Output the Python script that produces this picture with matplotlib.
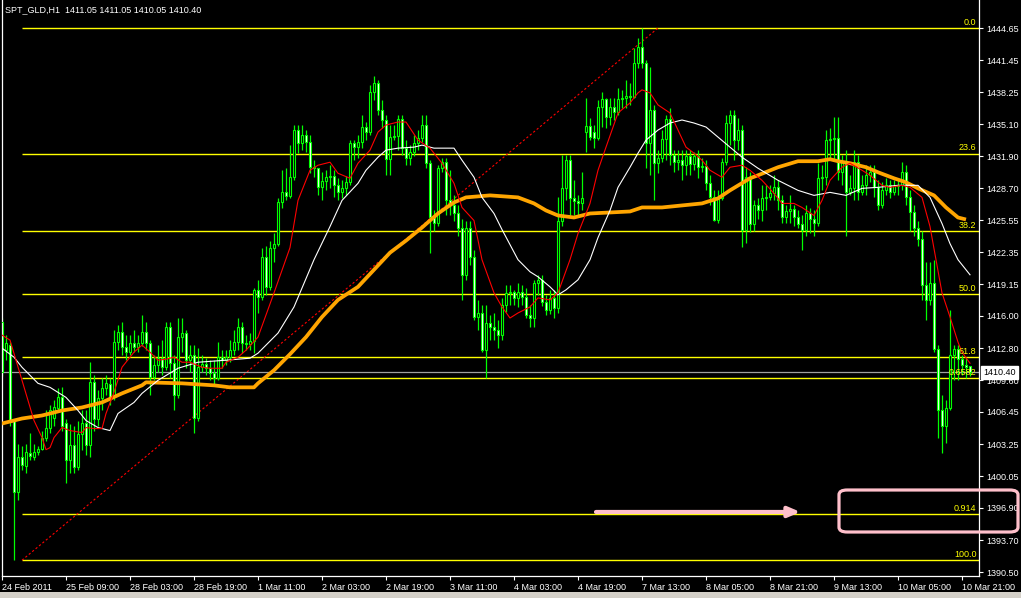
import matplotlib
matplotlib.use("Agg")
import matplotlib.pyplot as plt
from matplotlib.patches import FancyBboxPatch, Rectangle
import numpy as np

plt.rcParams["font.family"] = ["Liberation Sans", "DejaVu Sans"]

# hourly bars, 24 Feb 2011 17:00 -> 10 Mar 2011
opens = [
    1415.4, 1412.6, 1413.1, 1405.6, 1398.5, 1402.0, 1401.1, 1402.4, 1402.0, 1402.5,
    1402.8, 1403.9, 1404.9, 1405.9, 1406.8, 1407.9, 1405.4, 1401.7, 1403.2, 1401.0,
    1404.3, 1405.4, 1403.2, 1409.4, 1405.8, 1407.8, 1408.8, 1409.2, 1407.9, 1413.4,
    1414.4, 1412.9, 1412.4, 1413.3, 1412.9, 1413.3, 1414.4, 1413.3, 1409.9, 1411.1,
    1411.8, 1410.9, 1414.9, 1411.3, 1408.1, 1413.9, 1414.3, 1411.6, 1412.1, 1405.9,
    1410.9, 1411.2, 1410.8, 1410.3, 1409.8, 1411.9, 1411.6, 1411.9, 1412.6, 1413.4,
    1414.9, 1413.3, 1413.2, 1413.5, 1418.6, 1417.9, 1421.9, 1418.9, 1422.8, 1423.2,
    1427.3, 1428.3, 1427.9, 1429.8, 1434.5, 1433.2, 1434.0, 1433.3, 1430.8, 1430.7,
    1428.8, 1429.4, 1429.8, 1429.9, 1429.0, 1428.3, 1428.7, 1429.3, 1433.2, 1432.8,
    1433.3, 1434.8, 1434.3, 1438.3, 1439.2, 1436.5, 1435.5, 1431.6, 1433.8, 1433.9,
    1435.6, 1432.7, 1431.7, 1432.3, 1433.2, 1433.7, 1435.0, 1431.2, 1425.8, 1425.3,
    1430.7, 1431.3, 1427.5, 1427.0, 1426.2, 1424.8, 1420.1, 1424.8, 1421.9, 1415.9,
    1416.3, 1412.6, 1415.3, 1414.9, 1414.6, 1414.1, 1417.1, 1418.3, 1418.4, 1417.8,
    1418.4, 1417.9, 1416.1, 1415.8, 1419.3, 1419.6, 1417.4, 1416.6, 1417.8, 1416.8,
    1425.5, 1428.7, 1431.5, 1427.7, 1427.4, 1427.2, 1434.3, 1434.9, 1434.3, 1433.7,
    1436.8, 1437.6, 1435.8, 1436.8, 1436.3, 1437.6, 1437.7, 1437.9, 1437.8, 1441.2,
    1442.8, 1441.2, 1433.2, 1436.5, 1431.2, 1431.7, 1433.6, 1435.6, 1432.0, 1431.3,
    1431.5, 1431.0, 1431.9, 1431.1, 1431.9, 1430.8, 1430.9, 1429.2, 1427.8, 1425.6,
    1427.7, 1431.3, 1435.2, 1436.0, 1433.5, 1434.5, 1424.6, 1429.8, 1425.2, 1427.0,
    1426.5, 1427.7, 1427.8, 1428.2, 1428.8, 1427.5, 1425.8, 1426.4, 1426.6, 1425.8,
    1425.2, 1424.6, 1426.2, 1425.7, 1425.3, 1429.7, 1429.8, 1433.5, 1433.6, 1433.7,
    1430.3, 1431.3, 1428.3, 1428.7, 1431.3, 1428.3, 1429.0, 1430.0, 1430.3, 1428.8,
    1427.0, 1428.5, 1429.0, 1428.3, 1428.9, 1429.0, 1430.3, 1427.8, 1426.3, 1424.8,
    1423.7, 1419.1, 1417.6, 1419.3, 1412.7, 1406.6, 1405.1, 1406.8, 1412.1, 1412.7,
    1411.7, 1411.1, 1411.05,
]
highs = [
    1415.8, 1414.1, 1413.4, 1405.8, 1403.3, 1403.1, 1403.3, 1404.4, 1403.3, 1403.1,
    1404.6, 1406.6, 1407.1, 1407.6, 1408.8, 1408.9, 1405.8, 1405.3, 1405.1, 1405.6,
    1406.6, 1406.6, 1411.4, 1410.1, 1408.6, 1409.8, 1410.1, 1409.8, 1414.6, 1415.1,
    1415.4, 1414.1, 1414.1, 1414.6, 1414.1, 1416.1, 1415.4, 1413.6, 1412.1, 1413.1,
    1413.6, 1415.4, 1415.4, 1412.1, 1415.8, 1415.8, 1414.6, 1413.1, 1413.1, 1412.8,
    1412.1, 1411.8, 1411.6, 1411.6, 1413.4, 1412.6, 1412.6, 1413.6, 1414.6, 1415.8,
    1415.4, 1414.1, 1414.3, 1418.8, 1419.6, 1422.8, 1423.0, 1423.5, 1424.3, 1427.7,
    1430.5, 1430.7, 1433.0, 1435.0, 1435.0, 1435.0, 1434.5, 1434.0, 1431.5, 1430.7,
    1430.3, 1430.5, 1431.0, 1430.5, 1429.7, 1429.5, 1429.9, 1433.5, 1433.5, 1434.0,
    1436.0, 1435.3, 1439.0, 1439.9, 1439.5, 1437.5, 1436.0, 1435.0, 1435.0, 1436.0,
    1436.0, 1433.5, 1433.0, 1434.0, 1434.5, 1436.0, 1436.0, 1431.5, 1426.5, 1431.0,
    1431.7, 1431.7, 1430.5, 1428.0, 1427.0, 1425.7, 1425.5, 1425.5, 1422.6, 1417.6,
    1417.1, 1417.1, 1416.1, 1416.3, 1415.6, 1417.8, 1419.1, 1419.1, 1418.6, 1419.3,
    1419.1, 1418.8, 1417.1, 1419.6, 1420.1, 1420.1, 1418.1, 1418.6, 1418.6, 1427.8,
    1432.0, 1432.0, 1432.0, 1429.5, 1428.0, 1430.3, 1437.7, 1435.7, 1435.0, 1437.5,
    1438.3, 1437.7, 1437.7, 1437.7, 1438.7, 1438.5, 1439.5, 1439.2, 1442.7, 1443.7,
    1444.65, 1441.5, 1440.8, 1437.0, 1432.5, 1434.5, 1436.0, 1436.7, 1432.5, 1432.5,
    1432.5, 1432.5, 1432.5, 1432.3, 1432.5, 1431.7, 1431.5, 1430.0, 1428.5, 1428.5,
    1431.7, 1436.0, 1436.5, 1436.5, 1435.7, 1435.0, 1430.8, 1430.3, 1427.5, 1427.7,
    1429.0, 1429.0, 1429.0, 1430.0, 1429.5, 1428.0, 1427.0, 1428.0, 1427.0, 1426.5,
    1426.0, 1427.0, 1426.7, 1426.5, 1431.2, 1431.0, 1434.5, 1434.7, 1435.8, 1435.8,
    1432.0, 1432.5, 1430.0, 1432.5, 1432.0, 1430.0, 1431.0, 1431.0, 1431.0, 1429.5,
    1429.3, 1429.7, 1429.5, 1429.5, 1429.7, 1431.3, 1431.0, 1428.5, 1427.0, 1425.5,
    1424.5, 1421.4, 1421.4, 1421.6, 1413.1, 1408.1, 1407.6, 1416.6, 1413.1, 1413.1,
    1412.1, 1411.8, 1411.05,
]
lows = [
    1410.0, 1411.6, 1405.1, 1391.7, 1397.7, 1400.7, 1400.4, 1401.7, 1401.7, 1402.2,
    1402.7, 1403.6, 1404.4, 1405.1, 1406.4, 1404.6, 1399.4, 1400.4, 1400.4, 1400.7,
    1402.7, 1402.2, 1402.0, 1404.6, 1405.1, 1406.6, 1408.1, 1407.1, 1407.6, 1412.6,
    1412.1, 1411.6, 1412.1, 1412.4, 1412.4, 1413.0, 1412.6, 1408.1, 1409.6, 1410.4,
    1410.1, 1410.6, 1409.8, 1406.6, 1407.8, 1412.4, 1410.8, 1410.4, 1404.4, 1405.6,
    1410.4, 1410.1, 1409.6, 1409.1, 1409.6, 1410.8, 1411.1, 1411.4, 1412.1, 1412.6,
    1412.3, 1412.6, 1412.6, 1412.3, 1416.3, 1417.6, 1418.1, 1418.6, 1421.4, 1423.0,
    1426.7, 1427.5, 1427.7, 1429.5, 1432.2, 1432.5, 1432.3, 1430.2, 1429.8, 1428.0,
    1427.5, 1428.5, 1428.7, 1427.8, 1427.5, 1427.7, 1428.0, 1429.0, 1431.5, 1431.7,
    1432.7, 1433.5, 1434.0, 1437.5, 1436.0, 1434.7, 1430.0, 1430.0, 1433.5, 1432.5,
    1432.0, 1431.0, 1431.0, 1431.9, 1432.5, 1433.3, 1430.7, 1422.3, 1424.5, 1425.0,
    1430.3, 1426.0, 1426.0, 1425.5, 1424.0, 1417.6, 1419.6, 1421.1, 1415.6, 1414.6,
    1412.4, 1409.8, 1413.6, 1413.6, 1412.8, 1413.6, 1416.4, 1417.1, 1417.1, 1416.9,
    1417.1, 1415.8, 1414.9, 1414.9, 1418.1, 1417.0, 1416.1, 1416.2, 1415.8, 1416.3,
    1425.0, 1427.5, 1426.0, 1426.0, 1426.0, 1426.5, 1432.3, 1433.5, 1432.7, 1433.5,
    1434.8, 1434.7, 1435.0, 1435.5, 1436.0, 1436.7, 1436.7, 1437.0, 1437.7, 1440.7,
    1440.7, 1430.7, 1430.0, 1427.5, 1430.2, 1431.3, 1431.5, 1431.0, 1430.3, 1430.5,
    1429.5, 1430.0, 1430.0, 1430.5, 1429.7, 1430.3, 1428.5, 1427.0, 1425.5, 1425.3,
    1427.5, 1431.0, 1433.0, 1431.5, 1432.5, 1422.9, 1423.3, 1424.4, 1424.5, 1425.7,
    1425.5, 1426.5, 1427.5, 1427.5, 1426.5, 1425.3, 1425.3, 1425.3, 1425.0, 1424.8,
    1422.6, 1424.0, 1424.3, 1424.0, 1425.0, 1428.5, 1429.0, 1431.7, 1431.5, 1429.5,
    1429.0, 1424.0, 1428.0, 1427.5, 1427.5, 1428.0, 1428.0, 1429.3, 1427.8, 1426.5,
    1426.7, 1428.0, 1427.7, 1428.0, 1428.0, 1428.5, 1427.0, 1424.5, 1424.0, 1423.0,
    1417.6, 1415.6, 1417.1, 1412.4, 1403.9, 1402.4, 1403.4, 1406.6, 1409.6, 1409.6,
    1410.1, 1409.8, 1410.05,
]
closes = [
    1410.4, 1413.3, 1405.6, 1398.5, 1402.0, 1401.2, 1402.5, 1402.1, 1402.5, 1402.8,
    1403.9, 1404.9, 1406.6, 1406.9, 1407.9, 1405.1, 1401.7, 1403.2, 1401.0, 1404.3,
    1405.4, 1403.2, 1409.4, 1405.8, 1407.8, 1408.8, 1409.3, 1407.9, 1413.4, 1414.4,
    1412.9, 1412.4, 1413.3, 1412.9, 1413.3, 1414.4, 1413.3, 1409.9, 1411.1, 1411.8,
    1410.9, 1414.9, 1411.3, 1408.1, 1413.9, 1414.3, 1411.6, 1412.1, 1405.9, 1410.9,
    1411.2, 1410.8, 1410.3, 1409.8, 1411.9, 1411.6, 1411.9, 1412.6, 1413.4, 1414.9,
    1413.3, 1413.2, 1413.5, 1418.6, 1417.9, 1421.9, 1418.9, 1422.8, 1423.2, 1427.3,
    1428.3, 1427.9, 1429.8, 1434.5, 1433.2, 1434.0, 1433.3, 1430.8, 1430.7, 1428.8,
    1429.4, 1429.8, 1429.9, 1429.0, 1428.3, 1428.7, 1429.3, 1433.2, 1432.8, 1433.3,
    1434.8, 1434.3, 1438.3, 1439.2, 1436.5, 1435.5, 1431.6, 1433.8, 1433.9, 1435.6,
    1432.7, 1431.7, 1432.3, 1433.2, 1433.7, 1435.0, 1431.2, 1425.8, 1425.3, 1430.7,
    1431.3, 1427.5, 1427.0, 1426.2, 1424.8, 1420.1, 1424.8, 1421.9, 1415.9, 1416.3,
    1412.6, 1415.3, 1414.9, 1414.6, 1414.1, 1417.1, 1418.3, 1418.4, 1417.8, 1418.4,
    1417.9, 1416.1, 1415.8, 1419.3, 1419.6, 1417.4, 1416.6, 1417.8, 1416.8, 1425.5,
    1428.7, 1431.5, 1427.7, 1427.4, 1427.2, 1427.7, 1434.9, 1433.8, 1433.7, 1436.8,
    1437.6, 1435.8, 1436.8, 1436.3, 1437.6, 1437.7, 1437.9, 1437.8, 1441.2, 1442.8,
    1441.2, 1433.2, 1436.5, 1431.2, 1431.7, 1433.6, 1435.6, 1432.0, 1431.3, 1431.5,
    1431.0, 1431.9, 1431.1, 1431.9, 1430.8, 1430.9, 1429.2, 1427.8, 1425.6, 1427.7,
    1431.3, 1435.2, 1436.0, 1433.5, 1434.5, 1424.6, 1429.8, 1425.2, 1427.0, 1426.5,
    1427.7, 1427.8, 1428.2, 1428.8, 1427.5, 1425.8, 1426.4, 1426.6, 1425.8, 1425.2,
    1424.6, 1426.2, 1425.7, 1425.3, 1429.7, 1429.8, 1433.5, 1433.6, 1433.7, 1430.3,
    1431.3, 1428.3, 1428.7, 1431.3, 1428.3, 1429.0, 1430.0, 1430.3, 1428.8, 1427.0,
    1428.5, 1429.0, 1428.3, 1428.9, 1429.0, 1430.3, 1427.8, 1426.3, 1424.8, 1423.7,
    1419.1, 1417.6, 1419.3, 1412.7, 1406.6, 1405.1, 1406.8, 1412.1, 1412.7, 1411.7,
    1411.1, 1410.9, 1410.40,
]

# moving averages (bar index, price)
red_idx = [0, 2, 5, 8, 10, 11, 12, 13, 15, 17, 20, 21, 23, 25, 26, 28, 30, 33, 35, 37,
           39, 41, 43, 45, 47, 50, 52, 55, 56, 59, 61, 64, 68, 72, 74, 77, 79, 82, 84, 87,
           89, 92, 94, 96, 99, 101, 104, 107, 110, 113, 115, 118, 120, 123, 125, 127, 129,
           132, 134, 137, 139, 142, 144, 147, 149, 151, 154, 157, 159, 160, 162, 164, 167,
           169, 171, 173, 175, 177, 180, 182, 185, 187, 190, 193, 195, 198, 200, 203, 205,
           207, 210, 212, 215, 217, 220, 222, 225, 227, 230, 232, 235, 237, 239, 240, 242]
red_val = [1414.1, 1413.6, 1409.6, 1405.6, 1403.9, 1402.7, 1402.9, 1403.9, 1404.9, 1404.6,
           1404.4, 1404.9, 1404.8, 1404.8, 1406.3, 1408.4, 1410.9, 1412.4, 1413.1, 1412.4,
           1411.6, 1411.7, 1411.9, 1411.4, 1411.4, 1410.9, 1410.8, 1410.8, 1411.4, 1411.9,
           1412.6, 1413.9, 1418.3, 1422.8, 1427.5, 1430.5, 1431.0, 1431.3, 1430.2, 1429.7,
           1431.2, 1432.5, 1434.3, 1435.0, 1435.3, 1435.3, 1433.5, 1432.7, 1431.2, 1429.2,
           1426.8, 1425.5, 1421.6, 1418.3, 1416.9, 1415.8, 1416.3, 1416.9, 1417.8, 1417.6,
           1418.3, 1421.6, 1424.2, 1427.2, 1430.5, 1432.8, 1436.2, 1437.2, 1438.2, 1438.5,
           1438.2, 1437.0, 1436.2, 1434.5, 1432.8, 1432.2, 1431.5, 1430.5, 1429.8, 1430.8,
           1431.0, 1430.5, 1429.5, 1428.2, 1427.2, 1427.2, 1426.8, 1426.0, 1427.5, 1429.5,
           1430.8, 1431.2, 1430.5, 1430.0, 1429.0, 1428.8, 1429.0, 1428.8, 1427.8, 1424.9,
           1418.3, 1415.9, 1413.4, 1412.4, 1411.3]

white_idx = [0, 3, 5, 9, 12, 16, 19, 21, 24, 27, 29, 33, 35, 39, 44, 49, 56, 62, 64, 69,
             73, 78, 82, 85, 89, 91, 94, 96, 99, 103, 105, 108, 113, 115, 118, 120, 123, 125,
             129, 132, 134, 137, 139, 141, 144, 147, 149, 152, 154, 157, 159, 161, 164, 167,
             170, 173, 176, 179, 182, 185, 189, 194, 199, 203, 207, 211, 215, 219, 224, 229,
             232, 235, 237, 239, 242]
white_val = [1412.8, 1411.9, 1410.9, 1409.3, 1408.9, 1407.9, 1406.6, 1405.6, 1404.9, 1404.6,
             1406.3, 1407.4, 1408.3, 1409.6, 1410.8, 1411.4, 1411.6, 1411.8, 1412.3, 1414.3,
             1416.9, 1421.6, 1424.9, 1427.5, 1429.2, 1430.5, 1431.8, 1432.5, 1432.7, 1432.8,
             1433.0, 1432.7, 1432.7, 1431.5, 1429.8, 1427.8, 1426.2, 1424.6, 1421.6, 1420.4,
             1419.9, 1418.9, 1418.1, 1418.6, 1419.6, 1421.6, 1423.8, 1426.5, 1428.8, 1430.8,
             1432.2, 1433.5, 1434.5, 1435.2, 1435.5, 1435.2, 1434.8, 1433.8, 1432.8, 1431.8,
             1430.7, 1429.5, 1428.5, 1428.0, 1428.3, 1428.0, 1428.7, 1428.8, 1429.0, 1429.0,
             1427.8, 1425.2, 1423.2, 1421.6, 1420.1]

orange_idx = [0, 5, 10, 15, 20, 25, 30, 35, 36, 45, 53, 57, 63, 64, 68, 72, 76, 80, 84, 89,
              93, 97, 101, 105, 109, 113, 116, 122, 129, 133, 136, 139, 143, 147, 152, 157,
              160, 165, 170, 175, 179, 182, 187, 189, 194, 199, 204, 207, 209, 212, 216, 219,
              223, 226, 229, 233, 236, 239, 241]
orange_val = [1405.3, 1405.8, 1406.1, 1406.6, 1406.9, 1407.4, 1408.3, 1409.1, 1409.4, 1409.3,
              1409.1, 1408.9, 1408.9, 1409.3, 1410.6, 1412.2, 1413.9, 1415.9, 1417.6, 1418.9,
              1420.6, 1422.3, 1423.5, 1424.8, 1426.2, 1427.3, 1427.8, 1428.0, 1427.8, 1427.2,
              1426.5, 1426.0, 1425.8, 1426.2, 1426.3, 1426.4, 1426.8, 1426.8, 1427.0, 1427.2,
              1427.7, 1428.5, 1429.7, 1430.0, 1430.8, 1431.4, 1431.4, 1431.6, 1431.4, 1431.2,
              1430.8, 1430.3, 1429.7, 1429.3, 1428.7, 1428.0, 1426.8, 1425.8, 1425.6]

# fibonacci retracement, anchored on the swing low and the swing high
fib_low_bar, fib_high_bar = 5, 164
fib_low, fib_high = 1391.7, 1444.65
fib_levels = [0.0, 23.6, 38.2, 50.0, 61.8, 65.82, 91.4, 100.0]
fib_labels = ["0.0", "23.6", "38.2", "50.0", "61.8", "0.6582", "0.914", "100.0"]

date_labels = ["24 Feb 2011", "25 Feb 09:00", "28 Feb 03:00", "28 Feb 19:00", "1 Mar 11:00",
               "2 Mar 03:00", "2 Mar 19:00", "3 Mar 11:00", "4 Mar 03:00", "4 Mar 19:00",
               "7 Mar 13:00", "8 Mar 05:00", "8 Mar 21:00", "9 Mar 13:00", "10 Mar 05:00",
               "10 Mar 21:00"]
price_ticks = [1444.65, 1441.45, 1438.25, 1435.10, 1431.90, 1428.70, 1425.55, 1422.35,
               1419.15, 1416.00, 1412.80, 1409.60, 1406.45, 1403.25, 1400.05, 1396.90,
               1393.70, 1390.50]
last_price = 1410.40
header = "SPT_GLD,H1  1411.05 1411.05 1410.05 1410.40"

LIME = "#00ff00"
YELLOW = "#ffff00"
PINK = "#ffc0cb"

W, H = 1021, 598
fig = plt.figure(figsize=(W / 100, H / 100), dpi=100, facecolor="black")
ax = fig.add_axes([2 / W, 22 / H, 977 / W, 576 / H])
ax.set_facecolor("black")

o = np.array(opens)
h = np.array(highs)
l = np.array(lows)
c = np.array(closes)
x = np.arange(len(c))

# fibonacci lines
fib_prices = [fib_high - lv / 100 * (fib_high - fib_low) for lv in fib_levels]
ax.hlines(fib_prices, fib_low_bar, 245, color=YELLOW, lw=1.0, zorder=1)
for p, lab in zip(fib_prices, fib_labels):
    ax.annotate(lab, xy=(243.6, p), xytext=(0, 1), textcoords="offset points",
                ha="right", va="bottom", color=YELLOW, fontsize=6.5, zorder=6)
ax.plot([fib_low_bar, fib_high_bar], [fib_low, fib_high], color="#ff0000", lw=0.8,
        dashes=(2, 2), zorder=1)

ax.axhline(last_price, color="#a0a0a0", lw=0.9, zorder=1)

# candles
up = c >= o
ax.vlines(x, l, h, color=LIME, lw=0.9, zorder=2)
ax.bar(x, c - o, bottom=o, width=0.65, color=np.where(up, "black", "white"),
       edgecolor=LIME, linewidth=0.8, zorder=3)

# moving averages
ax.plot(orange_idx, orange_val, color="#ffa500", lw=2.7, zorder=4, solid_capstyle="butt")
ax.plot(white_idx, white_val, color="white", lw=0.8, zorder=4)
ax.plot(red_idx, red_val, color="#ff0000", lw=0.8, zorder=4)

ax.set_xlim(0, 244.25)
ax.set_ylim(1390.13, 1447.44)

ax.set_xticks(np.arange(0, 16 * len(date_labels), 16))
ax.set_xticklabels(date_labels, ha="left")
ax.yaxis.tick_right()
ax.set_yticks(price_ticks)
ax.set_yticklabels([f"{t:.2f}" for t in price_ticks])
ax.tick_params(colors="white", labelsize=6.5, length=3, width=0.8, direction="out")
ax.tick_params(axis="x", pad=2)
ax.tick_params(axis="y", pad=2)

for side in ["left", "right", "bottom"]:
    ax.spines[side].set_color("white")
    ax.spines[side].set_linewidth(0.9)
ax.spines["top"].set_visible(False)

# last price tag
ax.annotate(f"{last_price:.2f}", xy=(1, last_price), xycoords=("axes fraction", "data"),
            xytext=(3, 0), textcoords="offset points", ha="left", va="center",
            fontsize=6.5, color="black", zorder=10, annotation_clip=False,
            bbox=dict(boxstyle="square,pad=0.25", fc="white", ec="white"))

fig.text(5 / W, 1 - 10 / H, header, color="white", fontsize=6.5, va="center")

# hand drawn markup
ax.annotate("", xy=(200.3, 1396.5), xytext=(147.8, 1396.5),
            arrowprops=dict(arrowstyle="-|>,head_length=0.7,head_width=0.3",
                            color=PINK, lw=3), zorder=7)
fig.patches.append(FancyBboxPatch((839 / W, 66 / H), 179 / W, 42 / H,
                                  boxstyle="round,pad=0,rounding_size=0.008",
                                  transform=fig.transFigure, fill=False,
                                  ec=PINK, lw=2.3, zorder=8))

# window chrome at the bottom
fig.patches.append(Rectangle((0, 0), 1, 6 / H, transform=fig.transFigure,
                             fc="#d4d0c8", ec="none", zorder=0))

fig.savefig("out.png", dpi=100, facecolor="black")
